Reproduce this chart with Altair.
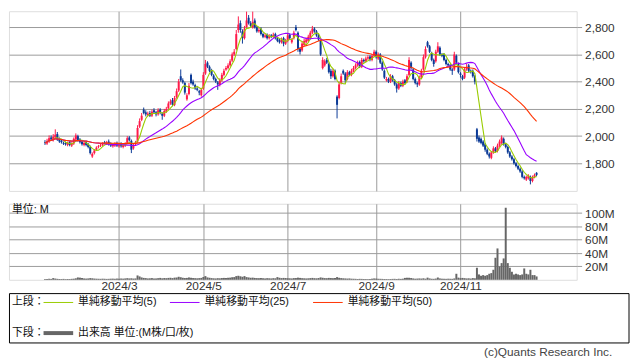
import altair as alt
import pandas as pd

# ---------------- data ----------------
opens = [1955, 1945, 1960, 1990, 1970, 1990, 2015, 1980, 1965, 1950,
         1950, 1935, 1955, 1930, 1945, 1975, 2000, 1975, 1960, 1935,
         1955, 1940, 1920, 1850, 1875, 1900, 1920, 1930, 1935, 1955,
         1945, 1960, 1945, 1925, 1930, 1950, 1925, 1945, 1920, 1930,
         1950, 1990, 1965, 1910, 1940, 1960, 2070, 2120, 2195, 2175,
         2155, 2170, 2150, 2190, 2175, 2160, 2195, 2165, 2150, 2180,
         2205, 2240, 2265, 2230, 2285, 2335, 2440, 2410, 2390, 2270,
         2310, 2450, 2400, 2375, 2350, 2330, 2300, 2350, 2460, 2540,
         2510, 2485, 2445, 2420, 2395, 2375, 2410, 2450, 2490, 2500,
         2520, 2555, 2600, 2640, 2780, 2830, 2770, 2720, 2800, 2870,
         2830, 2800, 2850, 2800, 2770, 2790, 2750, 2730, 2745, 2720,
         2740, 2730, 2750, 2720, 2705, 2690, 2720, 2680, 2700, 2745,
         2690, 2720, 2800, 2760, 2640, 2630, 2670, 2690, 2700, 2720,
         2760, 2790, 2770, 2740, 2700, 2500, 2520, 2560, 2530, 2480,
         2440, 2480, 2290, 2280, 2390, 2480, 2460, 2420, 2470, 2450,
         2480, 2500, 2520, 2545, 2510, 2560, 2550, 2570, 2585, 2560,
         2590, 2620, 2570, 2600, 2540, 2480, 2410, 2420, 2400, 2440,
         2410, 2380, 2350, 2390, 2370, 2410, 2400, 2450, 2540, 2490,
         2420, 2390, 2380, 2430, 2490, 2580, 2690, 2660, 2610, 2560,
         2550, 2620, 2650, 2600, 2600, 2560, 2530, 2520, 2490, 2490,
         2590, 2530, 2460, 2440, 2430, 2490, 2520, 2480, 2480, 2440,
         2050, 1990, 1980, 1960, 1940, 1900, 1870, 1840, 1880, 1910,
         1890, 1930, 1950, 1980, 1940, 1920, 1880, 1850, 1830, 1800,
         1780, 1760, 1740, 1700, 1680, 1690, 1700, 1670, 1700, 1730]

highs = [1970, 1980, 2005, 2005, 2015, 2050, 2030, 1990, 1975, 1960,
         1960, 1960, 1965, 1955, 1990, 2020, 2010, 1985, 1970, 1960,
         1965, 1950, 1930, 1880, 1905, 1925, 1935, 1945, 1955, 1965,
         1965, 1975, 1955, 1945, 1955, 1960, 1950, 1955, 1945, 1955,
         2000, 2000, 1975, 1945, 1965, 2080, 2130, 2170, 2210, 2190,
         2180, 2185, 2195, 2205, 2185, 2205, 2205, 2175, 2200, 2215,
         2255, 2270, 2280, 2295, 2350, 2420, 2490, 2425, 2400, 2315,
         2390, 2460, 2415, 2385, 2360, 2340, 2355, 2470, 2560, 2550,
         2520, 2495, 2455, 2430, 2405, 2425, 2465, 2495, 2515, 2535,
         2565, 2615, 2640, 2780, 2880, 2850, 2785, 2810, 2915, 2890,
         2845, 2915, 2865, 2810, 2795, 2800, 2760, 2755, 2755, 2750,
         2750, 2760, 2760, 2730, 2715, 2725, 2730, 2715, 2755, 2755,
         2720, 2775, 2817, 2770, 2655, 2695, 2715, 2725, 2745, 2775,
         2810, 2800, 2780, 2750, 2710, 2580, 2565, 2575, 2540, 2495,
         2495, 2490, 2300, 2400, 2460, 2490, 2470, 2485, 2480, 2495,
         2515, 2535, 2555, 2555, 2575, 2570, 2585, 2595, 2595, 2605,
         2635, 2630, 2615, 2610, 2550, 2490, 2435, 2430, 2455, 2450,
         2420, 2390, 2405, 2400, 2415, 2420, 2455, 2580, 2550, 2500,
         2430, 2400, 2445, 2495, 2600, 2660, 2700, 2670, 2620, 2570,
         2635, 2690, 2660, 2610, 2610, 2570, 2540, 2530, 2500, 2620,
         2600, 2540, 2470, 2450, 2505, 2530, 2530, 2490, 2490, 2450,
         2060, 2005, 1990, 1970, 1950, 1910, 1880, 1890, 1925, 1920,
         1945, 1975, 2005, 1990, 1950, 1930, 1890, 1860, 1840, 1810,
         1790, 1770, 1750, 1710, 1710, 1720, 1710, 1710, 1725, 1735]

lows = [1935, 1935, 1950, 1965, 1960, 1980, 1965, 1950, 1945, 1935,
        1930, 1925, 1925, 1920, 1935, 1965, 1960, 1945, 1930, 1925,
        1925, 1910, 1865, 1840, 1865, 1890, 1910, 1920, 1925, 1940,
        1935, 1930, 1920, 1915, 1920, 1920, 1915, 1915, 1910, 1920,
        1940, 1960, 1875, 1900, 1930, 1950, 2060, 2110, 2160, 2145,
        2145, 2140, 2140, 2165, 2145, 2150, 2160, 2120, 2140, 2170,
        2195, 2230, 2220, 2220, 2275, 2325, 2400, 2385, 2305, 2260,
        2300, 2380, 2370, 2340, 2330, 2300, 2290, 2340, 2450, 2500,
        2470, 2440, 2410, 2390, 2340, 2365, 2400, 2440, 2480, 2490,
        2510, 2545, 2590, 2630, 2760, 2760, 2680, 2710, 2790, 2820,
        2800, 2790, 2790, 2760, 2760, 2740, 2720, 2720, 2710, 2710,
        2720, 2720, 2710, 2690, 2680, 2680, 2660, 2670, 2690, 2710,
        2680, 2710, 2770, 2620, 2600, 2620, 2660, 2680, 2690, 2710,
        2750, 2760, 2730, 2700, 2590, 2490, 2510, 2530, 2460, 2420,
        2430, 2410, 2130, 2270, 2380, 2450, 2390, 2410, 2440, 2440,
        2470, 2490, 2510, 2500, 2500, 2540, 2540, 2560, 2550, 2550,
        2580, 2570, 2560, 2530, 2480, 2420, 2400, 2390, 2390, 2400,
        2370, 2320, 2340, 2360, 2360, 2380, 2390, 2440, 2490, 2410,
        2380, 2360, 2370, 2420, 2480, 2570, 2650, 2610, 2550, 2510,
        2540, 2610, 2590, 2580, 2550, 2520, 2510, 2480, 2450, 2480,
        2530, 2460, 2430, 2410, 2420, 2480, 2470, 2460, 2430, 2380,
        1960, 1950, 1940, 1920, 1885, 1860, 1835, 1830, 1870, 1880,
        1880, 1920, 1940, 1930, 1910, 1870, 1840, 1820, 1790, 1770,
        1750, 1730, 1690, 1680, 1670, 1680, 1645, 1660, 1690, 1705]

closes = [1950, 1965, 1985, 1975, 1995, 2010, 1975, 1960, 1955, 1945,
          1940, 1950, 1935, 1945, 1980, 2005, 1970, 1955, 1940, 1950,
          1935, 1920, 1875, 1870, 1895, 1915, 1925, 1935, 1945, 1950,
          1955, 1940, 1930, 1935, 1945, 1930, 1940, 1925, 1935, 1945,
          1985, 1970, 1900, 1935, 1955, 2060, 2110, 2150, 2170, 2160,
          2165, 2150, 2180, 2175, 2160, 2190, 2170, 2150, 2185, 2200,
          2240, 2255, 2230, 2280, 2330, 2400, 2410, 2395, 2320, 2300,
          2370, 2390, 2380, 2350, 2340, 2320, 2340, 2450, 2530, 2510,
          2480, 2450, 2420, 2400, 2380, 2410, 2450, 2480, 2500, 2520,
          2550, 2600, 2620, 2750, 2820, 2780, 2720, 2790, 2850, 2830,
          2810, 2840, 2800, 2770, 2780, 2750, 2730, 2740, 2720, 2735,
          2730, 2745, 2720, 2700, 2690, 2710, 2680, 2700, 2740, 2720,
          2710, 2760, 2780, 2640, 2620, 2680, 2700, 2710, 2730, 2760,
          2790, 2770, 2740, 2710, 2600, 2560, 2550, 2540, 2470, 2440,
          2480, 2420, 2230, 2380, 2440, 2460, 2410, 2470, 2450, 2480,
          2500, 2520, 2540, 2510, 2560, 2550, 2570, 2580, 2560, 2590,
          2620, 2580, 2600, 2540, 2490, 2430, 2420, 2400, 2440, 2410,
          2380, 2350, 2390, 2370, 2400, 2390, 2440, 2560, 2500, 2420,
          2390, 2380, 2430, 2480, 2580, 2640, 2660, 2620, 2560, 2530,
          2620, 2660, 2600, 2590, 2560, 2530, 2520, 2490, 2480, 2600,
          2540, 2470, 2450, 2420, 2490, 2510, 2480, 2470, 2440, 2400,
          1980, 1960, 1950, 1930, 1900, 1870, 1850, 1880, 1910, 1890,
          1930, 1960, 1990, 1940, 1920, 1880, 1850, 1830, 1800, 1780,
          1760, 1740, 1700, 1690, 1700, 1710, 1670, 1700, 1715, 1715]

volumes = [1.0, 1.2, 1.5, 1.3, 2.5, 1.8, 1.4, 1.2, 1.1, 1.3,
           1.0, 1.2, 1.1, 1.4, 1.6, 2.2, 3.5, 3.2, 2.8, 2.0,
           1.8, 2.0, 2.5, 2.2, 1.8, 1.6, 1.5, 1.4, 1.6, 1.5,
           1.3, 1.4, 1.6, 1.7, 1.5, 1.8, 1.6, 1.9, 1.7, 2.0,
           2.4, 2.0, 2.2, 1.8, 2.0, 6.5, 5.0, 3.5, 2.8, 2.5,
           2.0, 2.2, 2.5, 1.8, 2.0, 2.4, 2.8, 2.2, 2.6, 2.4,
           2.8, 3.0, 2.5, 3.2, 3.4, 4.5, 3.8, 3.0, 2.6, 2.8,
           3.5, 3.0, 2.6, 2.4, 2.2, 2.5, 2.8, 4.2, 5.5, 3.5,
           3.0, 2.5, 2.2, 2.0, 2.4, 2.2, 2.6, 2.8, 2.5, 3.0,
           3.2, 3.8, 4.0, 5.5, 6.0, 5.2, 4.5, 5.5, 4.0, 3.5,
           3.0, 3.2, 2.8, 2.5, 2.4, 2.6, 2.2, 2.0, 2.4, 2.2,
           2.0, 2.4, 2.2, 4.0, 3.0, 2.5, 2.8, 2.6, 2.4, 2.2,
           2.0, 2.5, 2.6, 3.2, 2.8, 2.4, 2.2, 2.0, 2.2, 2.5,
           2.8, 2.4, 2.2, 2.6, 3.5, 3.0, 2.5, 2.4, 2.8, 2.6,
           2.4, 2.8, 4.0, 3.0, 2.5, 2.2, 2.0, 1.8, 2.0, 1.6,
           1.5, 1.4, 1.2, 1.4, 1.3, 1.2, 1.1, 1.0, 1.2, 1.6,
           2.0, 1.8, 1.5, 1.4, 1.3, 1.2, 1.1, 1.0, 1.2, 1.3,
           1.4, 1.2, 1.5, 1.3, 1.6, 2.8, 3.2, 3.0, 2.6, 2.0,
           1.6, 1.8, 2.0, 1.8, 2.2, 1.6, 3.2, 2.0, 1.5, 1.4,
           1.8, 3.4, 2.0, 1.6, 1.5, 1.4, 1.6, 1.5, 1.4, 2.0,
           9.0, 3.2, 2.5, 2.8, 2.4, 2.0, 2.2, 1.8, 2.5, 2.2,
           18, 8, 6, 7, 6, 7, 9, 10, 15, 33,
           47, 20, 25, 32, 108, 25, 18, 12, 8, 9,
           8, 7, 8, 17, 9, 8, 15, 7, 7, 5]

month_ticks = [36, 77, 118, 161, 202]
month_labels = ["2024/3", "2024/5", "2024/7", "2024/9", "2024/11"]
price_ticks = [1800, 2000, 2200, 2400, 2600, 2800]
volume_ticks = [20, 40, 60, 80, 100]
ma_periods = [5, 25, 50]
ma_names = ["単純移動平均(5)", "単純移動平均(25)", "単純移動平均(50)"]

# ---------------- styles ----------------
UP = "#ff1a4a"
DOWN = "#0b3a96"
MA_COLORS = ["#99cc00", "#9900ff", "#ff3300"]
VOL_COLOR = "#666666"
GRID = "#9a9a9a"
LAT = "Liberation Sans"
JP = "Liberation Sans, Noto Sans CJK JP"

df = pd.DataFrame({
    "i": list(range(len(closes))),
    "open": opens, "high": highs, "low": lows, "close": closes,
    "volume": volumes,
})

x_scale = alt.Scale(domain=[-15.1, 256.1], nice=False, zero=False)
p_scale = alt.Scale(domain=[1597, 2918], nice=False, zero=False)
v_scale = alt.Scale(domain=[0, 114], nice=False, zero=True)

label_expr = " : ".join(
    f"datum.value == {v} ? '{t}'" for v, t in zip(month_ticks, month_labels)
) + " : ''"

x_axis_top = alt.Axis(values=month_ticks, grid=True, gridColor=GRID, labels=False,
                      ticks=False, domain=False, title=None)
p_axis = alt.Axis(orient="right", values=price_ticks,
                  labelExpr="format(datum.value, ',')", grid=True,
                  gridColor=GRID, tickColor=GRID, tickSize=5, domain=False,
                  title=None, labelFont=LAT, labelFontSize=12, labelColor="#333",
                  labelPadding=3)

color_rule = alt.when(alt.datum.close >= alt.datum.open).then(alt.value(UP)).otherwise(alt.value(DOWN))

base = alt.Chart(df)
wicks = base.mark_rule(strokeWidth=1).encode(
    x=alt.X("i:Q", scale=x_scale, axis=x_axis_top),
    y=alt.Y("low:Q", scale=p_scale, axis=p_axis),
    y2="high:Q",
    color=color_rule,
)
bodies = base.mark_bar(size=2).encode(
    x=alt.X("i:Q", scale=x_scale, axis=x_axis_top),
    y=alt.Y("open:Q", scale=p_scale, axis=p_axis),
    y2="close:Q",
    color=color_rule,
)
ma_layers = []
for n, c in zip(ma_periods, MA_COLORS):
    ma_layers.append(
        base.transform_window(ma="mean(close)", frame=[-(n - 1), 0], sort=[alt.SortField("i")])
        .mark_line(color=c, strokeWidth=1.1, interpolate="linear")
        .encode(
            x=alt.X("i:Q", scale=x_scale, axis=x_axis_top),
            y=alt.Y("ma:Q", scale=p_scale, axis=p_axis),
        )
    )
price = alt.layer(wicks, bodies, *ma_layers).properties(width=575, height=182)

# ---------------- volume panel ----------------
x_axis_bottom = alt.Axis(values=month_ticks, grid=True, gridColor=GRID, ticks=False,
                         domain=False, title=None, labelExpr=label_expr,
                         labelFont=LAT, labelFontSize=12, labelColor="#333",
                         labelPadding=1, labelAngle=0)
v_axis = alt.Axis(orient="right", values=volume_ticks, labelExpr="datum.value + 'M'",
                  grid=True, gridColor=GRID, tickColor=GRID, tickSize=5, domain=False,
                  title=None, labelFont=LAT, labelFontSize=12, labelColor="#333",
                  labelPadding=3)
vol_bars = base.mark_bar(size=2, color=VOL_COLOR).encode(
    x=alt.X("i:Q", scale=x_scale, axis=x_axis_bottom),
    y=alt.Y("volume:Q", scale=v_scale, axis=v_axis),
)

one = alt.Data(values=[{"k": 1}])


def txt(s, x, y, size=11, align="left", color="#111", font=JP):
    return alt.Chart(one).mark_text(align=align, baseline="middle", font=font,
                                    fontSize=size, color=color).encode(
        x=alt.value(x), y=alt.value(y), text=alt.value(s))


def seg(x1, x2, y, color, w):
    return alt.Chart(one).mark_rule(color=color, strokeWidth=w).encode(
        x=alt.value(x1), x2=alt.value(x2), y=alt.value(y))


unit = txt("単位: M", 3, 6)
box = alt.Chart(one).mark_rect(fillOpacity=0, stroke="#000", strokeWidth=1).encode(
    x=alt.value(0.5), x2=alt.value(628), y=alt.value(91), y2=alt.value(141))

row1, row2 = 100, 131
legend_parts = [box, txt("上段：", 3, row1), txt("下段：", 3, row2)]
line_x = [35, 163, 308]
for (lx, name, c) in zip(line_x, ma_names, MA_COLORS):
    legend_parts.append(seg(lx, lx + 30, row1, c, 1))
    legend_parts.append(txt(name, lx + 35, row1))
legend_parts.append(seg(35, 65, row2, VOL_COLOR, 4))
legend_parts.append(txt("出来高 単位:(M株/口/枚)", 70, row2))
legend_parts.append(txt("(c)Quants Research Inc.", 611, 150, size=12, align="right",
                        color="#444", font=LAT))

volume = alt.layer(vol_bars, unit, *legend_parts).properties(width=575, height=77)

chart = alt.vconcat(price, volume, spacing=11).properties(padding=0).configure_view(
    stroke=GRID, strokeWidth=1
).configure(background="white")

chart.save("out.html", embed_options={"renderer": "svg", "actions": False})
